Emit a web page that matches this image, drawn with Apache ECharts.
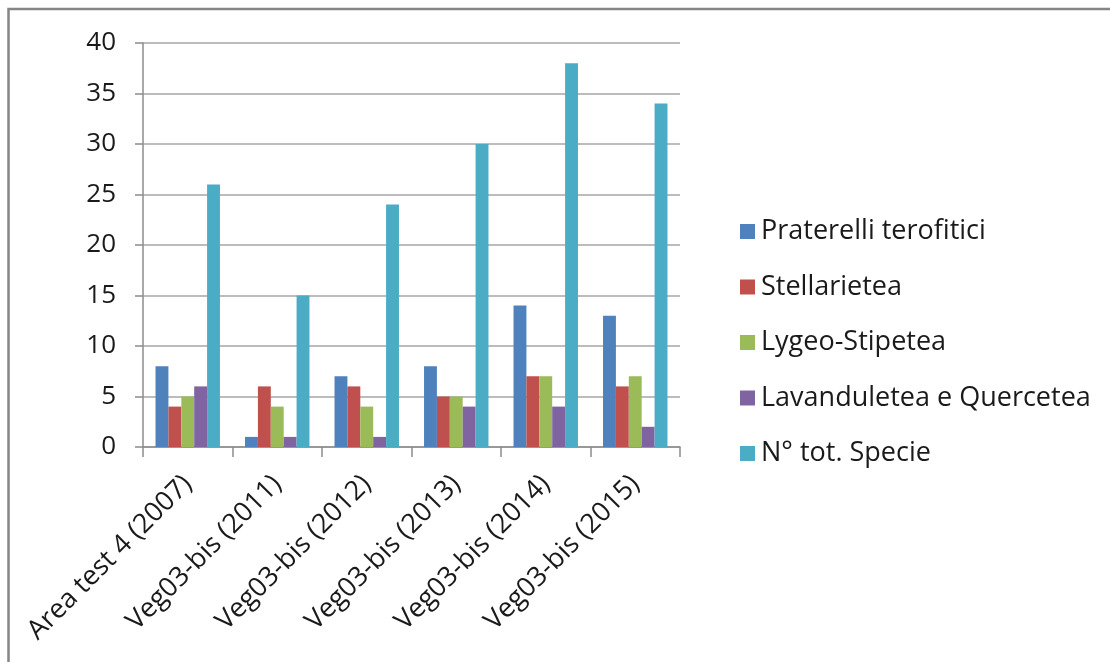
<!DOCTYPE html>
<html>
<head>
<meta charset="utf-8">
<script src="https://cdn.jsdelivr.net/npm/echarts@6/dist/echarts.min.js"></script>
<style>
  html, body { margin: 0; padding: 0; background: #fff; }
  #chart { width: 1110px; height: 662px; }
</style>
</head>
<body>
<div id="chart"></div>
<script>
// Sites and years surveyed
const categories = [
  'Area test 4 (2007)',
  'Veg03-bis (2011)',
  'Veg03-bis (2012)',
  'Veg03-bis (2013)',
  'Veg03-bis (2014)',
  'Veg03-bis (2015)'
];

// Number of species per phytosociological group
const praterelli = [8, 1, 7, 8, 14, 13];
const stellarietea = [4, 6, 6, 5, 7, 6];
const lygeo = [5, 4, 4, 5, 7, 7];
const lavanduletea = [6, 1, 1, 4, 4, 2];
const totSpecie = [26, 15, 24, 30, 38, 34];

const seriesNames = [
  'Praterelli terofitici',
  'Stellarietea',
  'Lygeo-Stipetea',
  'Lavanduletea e Quercetea',
  'N° tot. Specie'
];
const seriesData = [praterelli, stellarietea, lygeo, lavanduletea, totSpecie];
const colors = ['#4F81BD', '#C0504D', '#9BBB59', '#8064A2', '#4BACC6'];

const FONT = '"Open Sans", "Noto Sans", sans-serif';
const chart = echarts.init(document.getElementById('chart'));

chart.setOption({
  animation: false,
  color: colors,
  graphic: [{
    type: 'rect',
    shape: { x: 8.5, y: 9, width: 1200, height: 800 },
    style: { fill: 'none', stroke: '#858585', lineWidth: 2.5 },
    silent: true
  }],
  grid: { left: 143, right: 430, top: 43, bottom: 215, containLabel: false },
  legend: {
    orient: 'vertical',
    left: 735,
    top: 213,
    itemWidth: 15,
    itemHeight: 15,
    itemGap: 28.5,
    icon: 'rect',
    textStyle: { fontFamily: FONT, fontSize: 27, color: '#1a1a1a', padding: [0, 0, 0, 1] },
    data: seriesNames
  },
  xAxis: {
    type: 'category',
    data: categories,
    axisLine: { lineStyle: { color: '#8c8c8c', width: 1.5 } },
    axisTick: { show: true, length: 10, alignWithLabel: false, lineStyle: { color: '#8c8c8c', width: 1.5 } },
    axisLabel: {
      interval: 0,
      rotate: 45,
      margin: 33,
      fontFamily: FONT,
      fontSize: 27,
      color: '#1a1a1a'
    }
  },
  yAxis: {
    type: 'value',
    min: 0,
    max: 40,
    interval: 5,
    axisLine: { show: true, lineStyle: { color: '#8c8c8c', width: 1.5 } },
    axisTick: { show: true, length: 8, lineStyle: { color: '#8c8c8c', width: 1.5 } },
    splitLine: { show: true, lineStyle: { color: '#a6a6a6', width: 1.5 } },
    axisLabel: { margin: 27, fontFamily: FONT, fontSize: 26, color: '#1a1a1a' }
  },
  series: seriesNames.map((name, i) => ({
    name: name,
    type: 'bar',
    data: seriesData[i],
    barGap: '0%',
    barCategoryGap: '28%',
    itemStyle: { color: colors[i] }
  }))
});
</script>
</body>
</html>
